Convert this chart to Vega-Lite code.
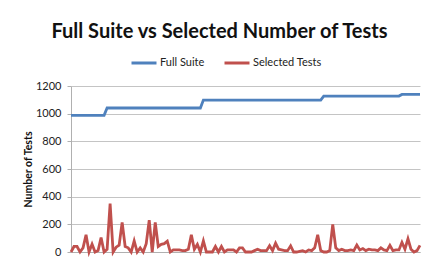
{
  "$schema": "https://vega.github.io/schema/vega-lite/v6.json",
  "width": 349,
  "height": 166,
  "autosize": {"type": "none"},
  "padding": {"left": 71, "top": 86, "right": 22, "bottom": 11},
  "background": "white",
  "title": {
    "text": "Full Suite vs Selected Number of Tests",
    "font": "Lato",
    "fontSize": 20,
    "fontWeight": "bold",
    "color": "#111111",
    "anchor": "middle",
    "frame": "group",
    "dx": -26,
    "offset": 7
  },
  "data": {
    "values": [
      {"i":0,"full":988,"sel":0},{"i":1,"full":988,"sel":40},{"i":2,"full":988,"sel":40},{"i":3,"full":988,"sel":0},{"i":4,"full":988,"sel":30},{"i":5,"full":988,"sel":124},{"i":6,"full":988,"sel":0},{"i":7,"full":988,"sel":57},{"i":8,"full":988,"sel":0},{"i":9,"full":988,"sel":10},
      {"i":10,"full":988,"sel":105},{"i":11,"full":988,"sel":0},{"i":12,"full":1041,"sel":20},{"i":13,"full":1041,"sel":350},{"i":14,"full":1041,"sel":0},{"i":15,"full":1041,"sel":35},{"i":16,"full":1041,"sel":50},{"i":17,"full":1041,"sel":214},{"i":18,"full":1041,"sel":40},{"i":19,"full":1041,"sel":30},
      {"i":20,"full":1041,"sel":0},{"i":21,"full":1041,"sel":80},{"i":22,"full":1041,"sel":0},{"i":23,"full":1041,"sel":30},{"i":24,"full":1041,"sel":0},{"i":25,"full":1041,"sel":60},{"i":26,"full":1041,"sel":230},{"i":27,"full":1041,"sel":0},{"i":28,"full":1041,"sel":214},{"i":29,"full":1041,"sel":40},
      {"i":30,"full":1041,"sel":55},{"i":31,"full":1041,"sel":60},{"i":32,"full":1041,"sel":78},{"i":33,"full":1041,"sel":0},{"i":34,"full":1041,"sel":15},{"i":35,"full":1041,"sel":15},{"i":36,"full":1041,"sel":15},{"i":37,"full":1041,"sel":10},{"i":38,"full":1041,"sel":10},{"i":39,"full":1041,"sel":20},
      {"i":40,"full":1041,"sel":124},{"i":41,"full":1041,"sel":20},{"i":42,"full":1041,"sel":55},{"i":43,"full":1041,"sel":0},{"i":44,"full":1098,"sel":80},{"i":45,"full":1098,"sel":0},{"i":46,"full":1098,"sel":0},{"i":47,"full":1098,"sel":0},{"i":48,"full":1098,"sel":40},{"i":49,"full":1098,"sel":0},
      {"i":50,"full":1098,"sel":40},{"i":51,"full":1098,"sel":0},{"i":52,"full":1098,"sel":15},{"i":53,"full":1098,"sel":15},{"i":54,"full":1098,"sel":15},{"i":55,"full":1098,"sel":0},{"i":56,"full":1098,"sel":30},{"i":57,"full":1098,"sel":30},{"i":58,"full":1098,"sel":0},{"i":59,"full":1098,"sel":0},
      {"i":60,"full":1098,"sel":0},{"i":61,"full":1098,"sel":10},{"i":62,"full":1098,"sel":20},{"i":63,"full":1098,"sel":10},{"i":64,"full":1098,"sel":10},{"i":65,"full":1098,"sel":10},{"i":66,"full":1098,"sel":45},{"i":67,"full":1098,"sel":10},{"i":68,"full":1098,"sel":64},{"i":69,"full":1098,"sel":20},
      {"i":70,"full":1098,"sel":15},{"i":71,"full":1098,"sel":10},{"i":72,"full":1098,"sel":10},{"i":73,"full":1098,"sel":45},{"i":74,"full":1098,"sel":0},{"i":75,"full":1098,"sel":0},{"i":76,"full":1098,"sel":5},{"i":77,"full":1098,"sel":10},{"i":78,"full":1098,"sel":0},{"i":79,"full":1098,"sel":15},
      {"i":80,"full":1098,"sel":10},{"i":81,"full":1098,"sel":30},{"i":82,"full":1098,"sel":124},{"i":83,"full":1098,"sel":10},{"i":84,"full":1127,"sel":0},{"i":85,"full":1127,"sel":0},{"i":86,"full":1127,"sel":10},{"i":87,"full":1127,"sel":200},{"i":88,"full":1127,"sel":30},{"i":89,"full":1127,"sel":10},
      {"i":90,"full":1127,"sel":20},{"i":91,"full":1127,"sel":10},{"i":92,"full":1127,"sel":10},{"i":93,"full":1127,"sel":15},{"i":94,"full":1127,"sel":10},{"i":95,"full":1127,"sel":50},{"i":96,"full":1127,"sel":15},{"i":97,"full":1127,"sel":25},{"i":98,"full":1127,"sel":10},{"i":99,"full":1127,"sel":20},
      {"i":100,"full":1127,"sel":15},{"i":101,"full":1127,"sel":15},{"i":102,"full":1127,"sel":10},{"i":103,"full":1127,"sel":30},{"i":104,"full":1127,"sel":15},{"i":105,"full":1127,"sel":10},{"i":106,"full":1127,"sel":48},{"i":107,"full":1127,"sel":10},{"i":108,"full":1127,"sel":15},{"i":109,"full":1127,"sel":15},
      {"i":110,"full":1139,"sel":70},{"i":111,"full":1139,"sel":20},{"i":112,"full":1139,"sel":95},{"i":113,"full":1139,"sel":20},{"i":114,"full":1139,"sel":0},{"i":115,"full":1139,"sel":10},{"i":116,"full":1139,"sel":48}
    ]
  },
  "transform": [
    {"fold": ["full", "sel"], "as": ["key", "value"]},
    {"lookup": "key", "from": {"data": {"values": [{"key": "full", "series": "Full Suite"}, {"key": "sel", "series": "Selected Tests"}]}, "key": "key", "fields": ["series"]}}
  ],
  "mark": {"type": "line", "strokeWidth": 2.8, "interpolate": "linear"},
  "encoding": {
    "x": {
      "field": "i", "type": "quantitative",
      "scale": {"domain": [0, 116], "nice": false, "zero": false},
      "axis": {"labels": false, "ticks": false, "grid": false, "title": null, "domainColor": "#b0b0b0"}
    },
    "y": {
      "field": "value", "type": "quantitative",
      "scale": {"domain": [0, 1200], "nice": false},
      "axis": {
        "values": [0, 200, 400, 600, 800, 1000, 1200],
        "format": "d",
        "title": "Number of Tests",
        "titleFont": "Lato", "titleFontSize": 10.5, "titleFontWeight": "bold", "titleColor": "#111111",
        "titlePadding": 2,
        "labelFont": "Lato", "labelFontSize": 11, "labelColor": "#222222", "labelPadding": 6,
        "tickSize": 4, "tickColor": "#b0b0b0", "domainColor": "#b0b0b0",
        "gridColor": "#c4c4c4", "gridWidth": 1
      }
    },
    "color": {
      "field": "series", "type": "nominal",
      "scale": {"domain": ["Full Suite", "Selected Tests"], "range": ["#4F81BD", "#C0504D"]},
      "legend": {
        "title": null, "orient": "none", "direction": "horizontal",
        "legendX": 59, "legendY": -37,
        "symbolType": "stroke", "symbolSize": 625, "symbolStrokeWidth": 3,
        "labelFont": "Lato", "labelFontSize": 11, "labelColor": "#222222", "labelOffset": 2,
        "columnPadding": 13
      }
    }
  },
  "config": {"view": {"stroke": null}}
}
